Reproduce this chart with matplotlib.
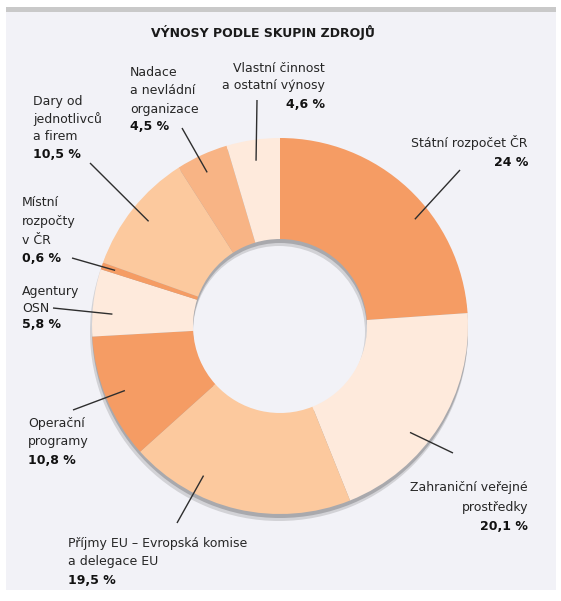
import matplotlib
matplotlib.use("Agg")
import matplotlib.pyplot as plt
import numpy as np
from matplotlib.patches import Rectangle, Wedge

# ---------------- data ----------------
title = "VÝNOSY PODLE SKUPIN ZDROJŮ"
categories = [
    "Státní rozpočet ČR",
    "Zahraniční veřejné prostředky",
    "Příjmy EU – Evropská komise a delegace EU",
    "Operační programy",
    "Agentury OSN",
    "Místní rozpočty v ČR",
    "Dary od jednotlivců a firem",
    "Nadace a nevládní organizace",
    "Vlastní činnost a ostatní výnosy",
]
label_lines = [
    ["Státní rozpočet ČR"],
    ["Zahraniční veřejné", "prostředky"],
    ["Příjmy EU – Evropská komise", "a delegace EU"],
    ["Operační", "programy"],
    ["Agentury", "OSN"],
    ["Místní", "rozpočty", "v ČR"],
    ["Dary od", "jednotlivců", "a firem"],
    ["Nadace", "a nevládní", "organizace"],
    ["Vlastní činnost", "a ostatní výnosy"],
]
values = [24, 20.1, 19.5, 10.8, 5.8, 0.6, 10.5, 4.5, 4.6]

# ---------------- style ----------------
DARK = "#F59C64"
MED = "#F8B485"
LIGHT = "#FCC99E"
PALE = "#FEEADC"
colors = [DARK, PALE, LIGHT, DARK, PALE, DARK, LIGHT, MED, PALE]

W, H = 561, 601
def P(x, y):
    return (x, H - y)

fig = plt.figure(figsize=(W / 100, H / 100), dpi=100)
ax = fig.add_axes([0, 0, 1, 1])

# background panel
ax.add_patch(Rectangle((6, H - 590), 550, 578, facecolor="#f2f2f7",
                       edgecolor="none", zorder=0))
ax.add_patch(Rectangle((6, H - 12), 550, 5, facecolor="#c9c9c9",
                       edgecolor="none", zorder=0))

center = P(280, 326)
R = 188
RING = 101

# shadow
ax.add_patch(Wedge((center[0] - 1, center[1] - 6), R + 1, 0, 360, width=RING + 2,
                   facecolor="#d2d2d6", edgecolor="none", zorder=1))
ax.add_patch(Wedge((center[0], center[1] - 4), R, 0, 360, width=RING,
                   facecolor="#a9a9ad", edgecolor="none", zorder=1))

wedges, _ = ax.pie(values, colors=colors, startangle=90, counterclock=False,
                   radius=R, center=center,
                   wedgeprops=dict(width=RING, edgecolor="none", linewidth=0))
for w in wedges:
    w.set_zorder(2)

ax.set_xlim(0, W)
ax.set_ylim(0, H)
ax.set_aspect("equal")
ax.axis("off")

# ---------------- labels & leader lines ----------------
# (text x, ha, line y's, leader outer end, leader inner radius, angle fraction)
layout = [
    (528, "right", [143, 162], (460, 170), 172, 0.40),
    (528, "right", [488, 507, 526], (453, 453), 168, 0.40),
    (68, "left", [543, 561, 580], (177, 523), 168, 0.30),
    (28, "left", [423, 442, 461], (73, 410), 168, 0.50),
    (22, "left", [291, 308, 325], (53, 308), 168, 0.65),
    (22, "left", [203, 221, 240, 259], (72, 258), 174, 0.50),
    (33, "left", [101, 119, 137, 155], (90, 163), 168, 0.50),
    (130, "left", [73, 91, 109, 127], (182, 128), 170, 0.55),
    (325, "right", [68, 86, 104], (257, 100), 167, 0.50),
]

FS = 9
TXT = "#262626"
for w, lines, v, (tx, ha, ys, outer, rin, fr) in zip(wedges, label_lines, values, layout):
    th = np.deg2rad(w.theta1 + fr * (w.theta2 - w.theta1))
    ix = center[0] + rin * np.cos(th)
    iy = center[1] + rin * np.sin(th)
    ox, oy = P(*outer)
    ax.plot([ox, ix], [oy, iy], color="#2e2e2e", lw=1.0, zorder=5,
            solid_capstyle="butt")
    for line, y in zip(lines, ys[:-1]):
        ax.text(tx, H - y, line, ha=ha, va="center", fontsize=FS, color=TXT,
                family="DejaVu Sans", zorder=6)
    pct = ("%g" % v).replace(".", ",") + " %"
    ax.text(tx, H - ys[-1], pct, ha=ha, va="center", fontsize=FS, color="#111111",
            fontweight="bold", family="DejaVu Sans", zorder=6)

ax.text(263, H - 33, title, ha="center", va="center", fontsize=9,
        fontweight="bold", color="#1a1a1a", family="DejaVu Sans")

fig.savefig("out.png", dpi=100)
